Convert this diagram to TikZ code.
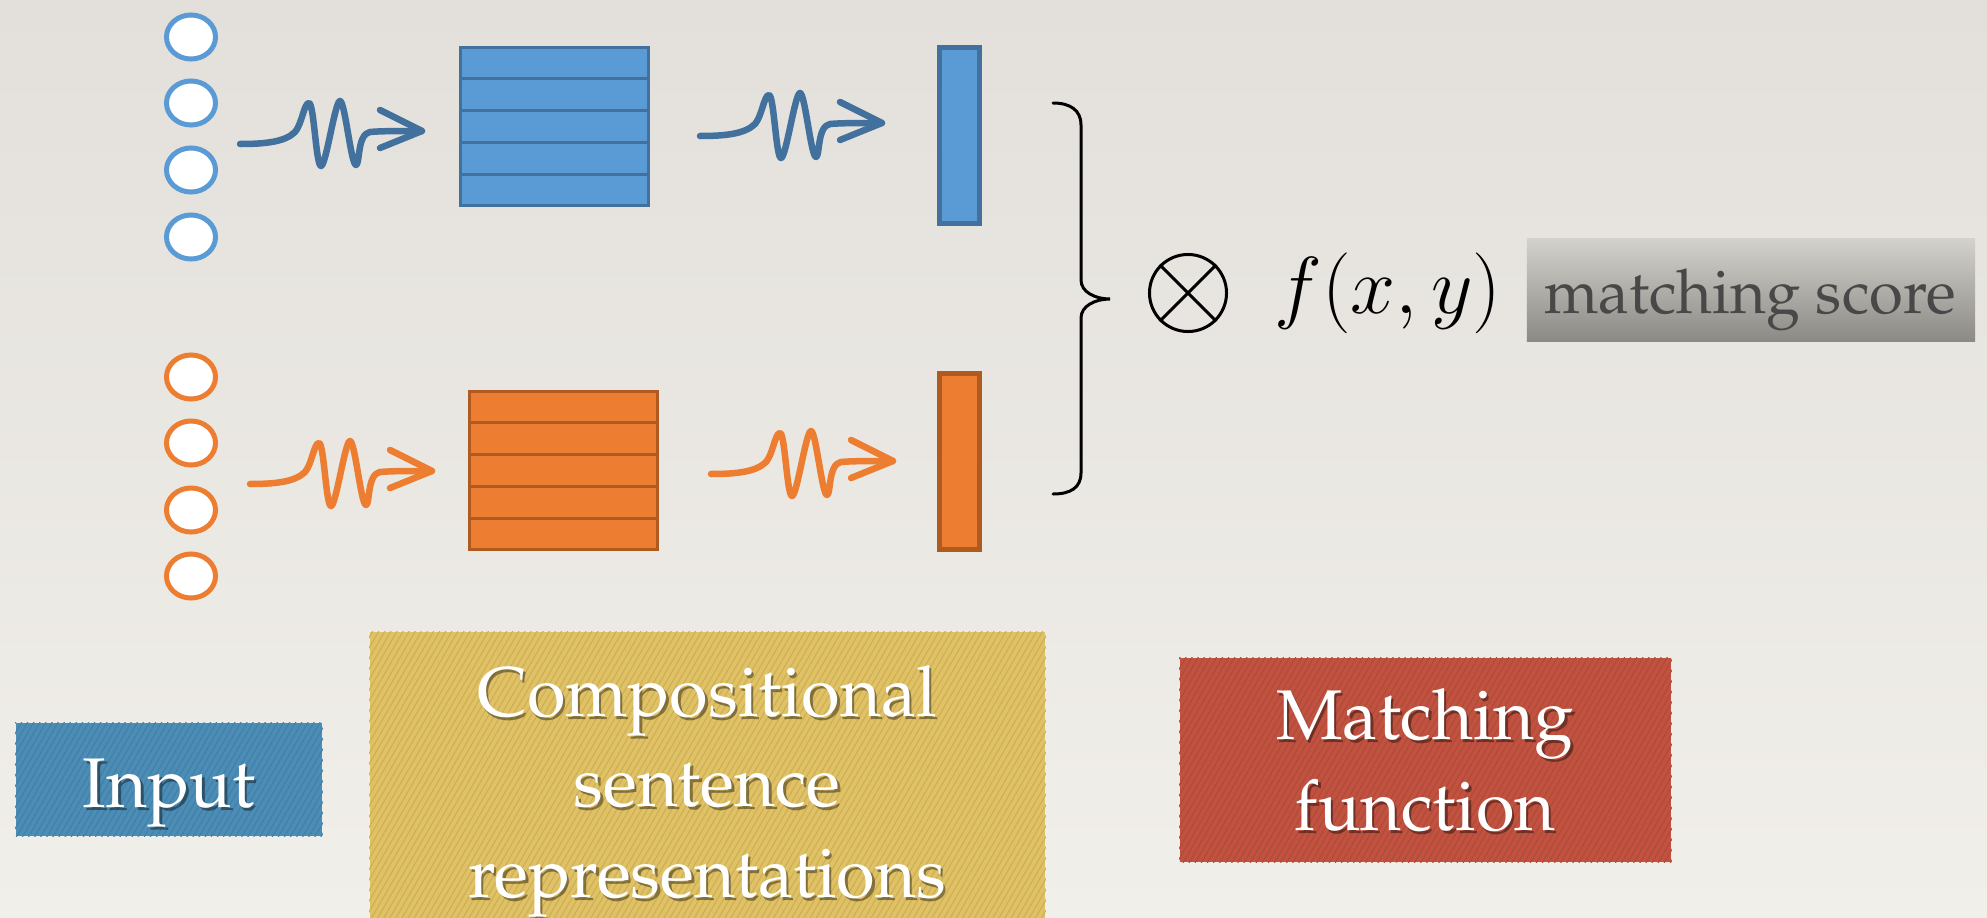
\RequirePackage{fix-cm}
\documentclass[tikz,border=0pt]{standalone}
\usepackage[T1,TU]{fontenc}
\usetikzlibrary{calc,shapes.geometric,patterns.meta}
\newcommand\palfont{\fontencoding{T1}\fontfamily{ppl}\selectfont}
\definecolor{bgtop}{HTML}{E3E0DB}
\definecolor{bgbot}{HTML}{F1EFEA}
\definecolor{blueF}{HTML}{5B9BD5}
\definecolor{blueD}{HTML}{41719C}
\definecolor{oranF}{HTML}{ED7D31}
\definecolor{oranD}{HTML}{AE5A21}
\definecolor{inBlue}{HTML}{4B8DB6}
\definecolor{gold}{HTML}{E0C164}
\definecolor{brick}{HTML}{C25240}
\definecolor{scoreTop}{HTML}{D3D1CC}
\definecolor{scoreBot}{HTML}{8C8A85}
\definecolor{scoreTxt}{HTML}{484848}
\tikzset{
  unit/.style={ellipse, fill=white, line width=0.05cm, inner sep=0pt,
    minimum width=0.49cm, minimum height=0.44cm},
  mat/.style={rectangle, line width=0.03cm, inner sep=0pt,
    minimum width=1.87cm, minimum height=1.57cm},
  vec/.style={rectangle, line width=0.05cm, inner sep=0pt,
    minimum width=0.40cm, minimum height=1.76cm},
  squiggle/.pic={
    \draw[pic actions, line width=0.065cm, line cap=round, line join=round]
      (0,0) .. controls (25,0) and (45,2) .. (55,12)
      .. controls (62,20) and (64,41) .. (69,41)
      .. controls (74,41) and (76,-22) .. (81,-22)
      .. controls (86,-22) and (95,43) .. (100,43)
      .. controls (105,43) and (111,-21) .. (116,-21)
      .. controls (120,-21) and (117,10) .. (130,12)
      .. controls (140,13) and (160,13) .. (182,13);
    \draw[pic actions, line width=0.065cm, line cap=round, line join=round]
      (140,34) -- (182,13) -- (140,-4);
  },
  labelbox/.style={rectangle, inner sep=0pt},
  texture/.style={pattern={Lines[angle=60,distance=1.5pt,line width=0.3pt]}},
  boxlabel/.style={font=\palfont\fontsize{20}{25.6}\selectfont, align=center,
    text=white, anchor=base, inner sep=0pt},
  boxshadow/.style={boxlabel, text=black, text opacity=0.4},
}
\begin{document}
\begin{tikzpicture}[x=0.01cm,y=0.01cm]
\useasboundingbox (0,0) rectangle (1987,-918);
\shade[top color=bgtop, bottom color=bgbot] (0,0) rectangle (1987,-918);

% input word units
\foreach \y [count=\i] in {37,103,170,237}
  \node[unit, draw=blueF] (b\i) at (191,-\y) {};
\foreach \y [count=\i] in {377,443,510,576}
  \node[unit, draw=oranF] (o\i) at (191,-\y) {};

% sentence matrices
\node[mat, fill=blueF, draw=blueD] (mb) at (554.5,-126.5) {};
\node[mat, fill=oranF, draw=oranD] (mo) at (563.5,-470.5) {};
\foreach \k in {0.2,0.4,0.6,0.8} {
  \draw[blueD, line width=0.03cm] ($(mb.north west)!\k!(mb.south west)$) -- ($(mb.north east)!\k!(mb.south east)$);
  \draw[oranD, line width=0.03cm] ($(mo.north west)!\k!(mo.south west)$) -- ($(mo.north east)!\k!(mo.south east)$);
}

% sentence vectors
\node[vec, fill=blueF, draw=blueD] (vb) at (959.5,-135.5) {};
\node[vec, fill=oranF, draw=oranD] (vo) at (959.5,-461.5) {};

% composition arrows
\coordinate (sb1) at (240,-144);
\coordinate (sb2) at (700,-136);
\coordinate (so1) at (250,-484);
\coordinate (so2) at (711,-474);
\pic[draw=blueD] at (sb1) {squiggle};
\pic[draw=blueD] at (sb2) {squiggle};
\pic[draw=oranF] at (so1) {squiggle};
\pic[draw=oranF] at (so2) {squiggle};

% brace joining both vectors
\draw[line width=0.03cm, line cap=round]
  (1053,-103) .. controls (1070,-103) and (1081,-110) .. (1081,-125)
  -- (1081,-280) .. controls (1081,-292) and (1095,-299) .. (1110,-299)
  .. controls (1095,-299) and (1081,-306) .. (1081,-318)
  -- (1081,-473) .. controls (1081,-488) and (1070,-494) .. (1053,-494);

% matching operator and function
\node[circle, draw, line width=0.03cm, minimum size=0.77cm, inner sep=0pt] (ot) at (1188,-293) {};
\draw[line width=0.03cm] (ot.north west) -- (ot.south east);
\draw[line width=0.03cm] (ot.north east) -- (ot.south west);
\node[inner sep=0pt, font=\fontsize{23}{28}\selectfont] (fxy) at (1388,-293) {$f(x,y)$};

% score box
\node[labelbox, top color=scoreTop, bottom color=scoreBot,
  minimum width=4.48cm, minimum height=1.02cm] (ms) at (1751,-290) {};
\node[anchor=base, inner sep=0pt, text=scoreTxt,
  font=\palfont\fontsize{17.5}{22}\selectfont] (mstxt) at (1750,-313) {matching score};

% legend boxes
\node[labelbox, fill=inBlue, minimum width=3.06cm, minimum height=1.13cm] (lin) at (169,-779.5) {};
\node[labelbox, fill=gold, minimum width=6.75cm, minimum height=3.00cm] (lcomp) at (707.5,-782) {};
\node[labelbox, fill=brick, minimum width=4.91cm, minimum height=2.04cm] (lmat) at (1425.5,-760) {};
\fill[texture, pattern color=inBlue!90!black] (lin.south west) rectangle (lin.north east);
\fill[texture, pattern color=gold!90!black] (lcomp.south west) rectangle (lcomp.north east);
\fill[texture, pattern color=brick!90!black] (lmat.south west) rectangle (lmat.north east);

% labels (base anchor sits on the last line)
\node[boxshadow] (tin-s) at (171.5,-810) {Input};
\node[boxlabel] (tin) at (169,-807) {Input};
\node[boxshadow] (tcomp-s) at (709.5,-900) {Compositional\\sentence\\representations};
\node[boxlabel] (tcomp) at (707,-897) {Compositional\\sentence\\representations};
\node[boxshadow] (tmat-s) at (1427.5,-833) {Matching\\function};
\node[boxlabel] (tmat) at (1425,-830) {Matching\\function};
\end{tikzpicture}
\end{document}
